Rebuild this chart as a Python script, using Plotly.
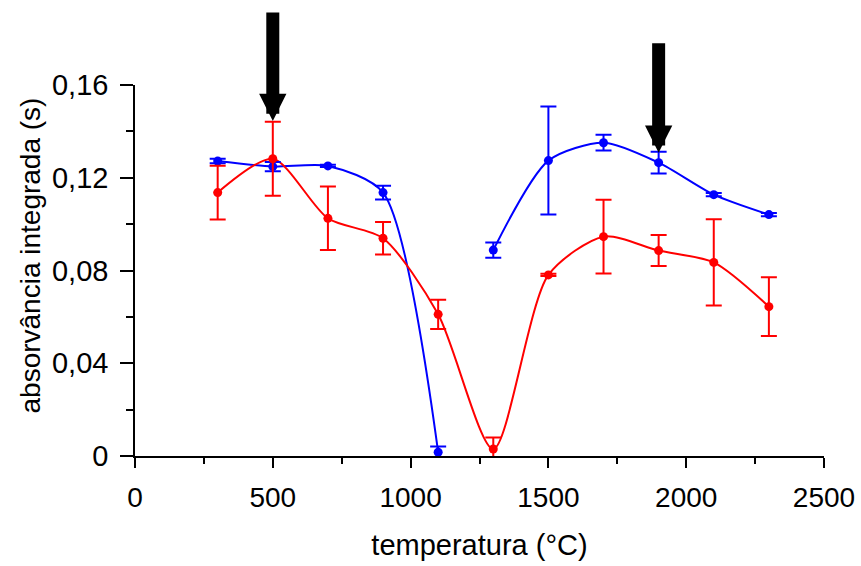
import plotly.graph_objects as go

temps = [300, 500, 700, 900, 1100, 1300, 1500, 1700, 1900, 2100, 2300]

blue_y = [0.1272, 0.1248, 0.1251, 0.1136, 0.0016, 0.0888, 0.1274, 0.1351, 0.1265, 0.1127, 0.1041]
blue_err = [0.0010, 0.0020, 0.0005, 0.0030, 0.0025, 0.0033, 0.0233, 0.0034, 0.0047, 0.0007, 0.0007]

red_y = [0.1136, 0.1282, 0.1025, 0.0939, 0.0611, 0.0030, 0.0781, 0.0946, 0.0886, 0.0835, 0.0644]
red_err = [0.0116, 0.0160, 0.0137, 0.0070, 0.0063, 0.0050, 0.0005, 0.0159, 0.0067, 0.0186, 0.0127]

# blue curve is broken between 1100 and 1300 °C
blue_line_x = [300, 500, 700, 900, 1100, None, 1300, 1500, 1700, 1900, 2100, 2300]
blue_line_y = blue_y[:5] + [None] + blue_y[5:]

arrow_x = [500, 1900]
arrow_tip_y = [0.1445, 0.1308]
arrow_len_px = [-110, -111]

x_ticks = [0, 500, 1000, 1500, 2000, 2500]
y_ticks = [0, 0.04, 0.08, 0.12, 0.16]
y_ticklabels = ["0", "0,04", "0,08", "0,12", "0,16"]

BLUE = "#0000FF"
RED = "#FF0000"
SMOOTH = 0.75

fig = go.Figure()

# smoothed lines
fig.add_trace(go.Scatter(x=blue_line_x, y=blue_line_y, mode="lines",
                         line=dict(color=BLUE, width=2, shape="spline", smoothing=SMOOTH),
                         connectgaps=False, hoverinfo="skip", showlegend=False))
fig.add_trace(go.Scatter(x=temps, y=red_y, mode="lines",
                         line=dict(color=RED, width=2, shape="spline", smoothing=SMOOTH),
                         hoverinfo="skip", showlegend=False))
# markers with error bars
fig.add_trace(go.Scatter(x=temps, y=blue_y, mode="markers",
                         marker=dict(color=BLUE, size=9),
                         error_y=dict(type="data", array=blue_err, color=BLUE, thickness=2, width=8),
                         showlegend=False))
fig.add_trace(go.Scatter(x=temps, y=red_y, mode="markers",
                         marker=dict(color=RED, size=9),
                         error_y=dict(type="data", array=red_err, color=RED, thickness=2, width=8),
                         showlegend=False))

for ax_, ay_, al in zip(arrow_x, arrow_tip_y, arrow_len_px):
    fig.add_annotation(x=ax_, y=ay_, xref="x", yref="y", text="", showarrow=True,
                       ax=0, ay=al, arrowhead=2, arrowwidth=13, arrowsize=0.42,
                       arrowcolor="black", standoff=0)

font_family = "Liberation Sans, Arial, sans-serif"

# y-axis title as rotated text left of the tick labels
fig.add_annotation(text="absorvância integrada (s)", xref="paper", yref="paper",
                   x=0, y=0.5, xanchor="center", yanchor="middle", xshift=-105, yshift=15,
                   textangle=-90, showarrow=False, font=dict(size=28))

fig.update_layout(
    width=861, height=566,
    margin=dict(l=135, r=37, t=85, b=110),
    paper_bgcolor="white", plot_bgcolor="white",
    font=dict(family=font_family, size=28, color="black"),
    showlegend=False,
)
fig.update_xaxes(
    range=[0, 2500], tickvals=x_ticks, ticktext=[str(v) for v in x_ticks],
    showgrid=False, zeroline=False, showline=True, linecolor="black", linewidth=1.5,
    ticks="outside", ticklen=10, tickwidth=1.5, tickcolor="black",
    minor=dict(dtick=250, ticks="outside", ticklen=6, tickwidth=1.5, tickcolor="black", showgrid=False),
    ticklabelstandoff=6, automargin=False,
    title=dict(text="temperatura (°C)", font=dict(size=29), standoff=22),
    tickfont=dict(size=28),
)
fig.update_yaxes(
    range=[0, 0.16], tickvals=y_ticks, ticktext=y_ticklabels,
    showgrid=False, zeroline=False, showline=True, linecolor="black", linewidth=1.5,
    ticks="outside", ticklen=13, tickwidth=1.5, tickcolor="black",
    minor=dict(dtick=0.02, ticks="outside", ticklen=7, tickwidth=1.5, tickcolor="black", showgrid=False),
    ticklabelstandoff=6, automargin=False,
    tickfont=dict(size=29),
)

fig.write_html("out.html")
